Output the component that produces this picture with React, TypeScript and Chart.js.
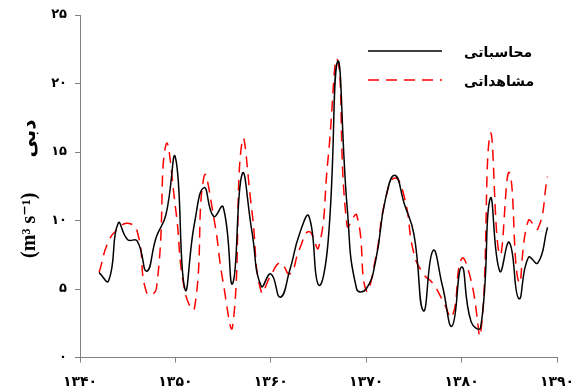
import React, { useEffect, useRef } from 'react';
import { Chart, registerables } from 'chart.js';

Chart.register(...registerables);

// ---- data ----
const years = [
  1342, 1343, 1344, 1345, 1346, 1347, 1348, 1349, 1350, 1351, 1352, 1353,
  1354, 1355, 1356, 1357, 1358, 1359, 1360, 1361, 1362, 1363, 1364, 1365,
  1366, 1367, 1368, 1369, 1370, 1371, 1372, 1373, 1374, 1375, 1376, 1377,
  1378, 1379, 1380, 1381, 1382, 1383, 1384, 1385, 1386, 1387, 1388, 1389,
];

const simulated = [
  6.2, 5.6, 9.8, 8.6, 8.5, 6.3, 8.8, 10.4, 14.6, 5.0, 9.8, 12.4,
  10.3, 11.0, 5.4, 13.4, 9.3, 5.2, 6.1, 4.4, 6.4, 9.0, 10.3, 5.3,
  8.4, 21.6, 11.0, 5.0, 5.0, 7.1, 11.5, 13.3, 11.2, 9.0, 3.4, 7.8,
  5.2, 2.3, 6.6, 2.6, 2.2, 11.6, 6.3, 8.4, 4.3, 7.3, 6.9, 9.5,
];

const observed = [
  6.2, 8.5, 9.4, 9.8, 9.2, 4.7, 5.0, 15.5, 11.0, 4.8, 3.6, 13.2,
  10.3, 5.5, 2.3, 15.8, 10.8, 4.8, 6.0, 6.9, 6.1, 7.9, 9.2, 8.0,
  14.5, 21.7, 9.6, 10.4, 4.9, 7.3, 11.5, 13.1, 11.7, 7.6, 6.1, 5.4,
  4.2, 3.0, 7.2, 5.6, 1.8, 16.3, 7.5, 13.5, 5.5, 10.0, 9.4, 13.2,
];

const xTicks = [1340, 1350, 1360, 1370, 1380, 1390];
const yTicks = [0, 5, 10, 15, 20, 25];
const seriesNames = ['محاسباتی', 'مشاهداتی'];
const yTitle = '(m³ s⁻¹)       دبی ';

const faDigits = '۰۱۲۳۴۵۶۷۸۹';
const toFa = (v: number | string) => String(v).replace(/\d/g, (d) => faDigits[+d]);

const insideLegend = {
  id: 'insideLegend',
  afterDraw(chart: any) {
    const ctx = chart.ctx;
    ctx.save();
    chart.data.datasets.forEach((ds: any, i: number) => {
      const y = 51 + i * 29;
      ctx.strokeStyle = ds.borderColor;
      ctx.lineWidth = ds.borderWidth;
      ctx.setLineDash(ds.borderDash || []);
      ctx.beginPath();
      ctx.moveTo(368, y);
      ctx.lineTo(442, y);
      ctx.stroke();
      ctx.setLineDash([]);
      ctx.fillStyle = '#000';
      ctx.font = 'bold 14px "DejaVu Sans"';
      ctx.textAlign = 'left';
      ctx.textBaseline = 'middle';
      ctx.fillText(ds.label, 464, y + 2);
    });
    ctx.restore();
  },
};

export default function App() {
  const ref = useRef<HTMLCanvasElement>(null);

  useEffect(() => {
    if (!ref.current) return;
    const axisColor = '#808080';
    const chart = new Chart(ref.current, {
      type: 'line',
      data: {
        datasets: [
          {
            label: seriesNames[0],
            data: years.map((x, i) => ({ x, y: simulated[i] })),
            borderColor: '#000000',
            borderWidth: 1.5,
            pointRadius: 0,
            tension: 0.5,
            fill: false,
          },
          {
            label: seriesNames[1],
            data: years.map((x, i) => ({ x, y: observed[i] })),
            borderColor: '#ff0000',
            borderWidth: 1.5,
            borderDash: [11, 7],
            pointRadius: 0,
            tension: 0.5,
            fill: false,
          },
        ],
      },
      options: {
        animation: false,
        responsive: false,
        layout: { padding: { top: 15, right: 14, left: 0, bottom: 0 } },
        plugins: { legend: { display: false }, tooltip: { enabled: false } },
        scales: {
          x: {
            type: 'linear',
            min: 1340,
            max: 1390,
            afterBuildTicks: (s: any) => {
              s.ticks = xTicks.map((v) => ({ value: v }));
            },
            afterFit: (s: any) => {
              s.height = 34.5;
              s.paddingLeft = 0;
              s.paddingRight = 0;
            },
            grid: {
              drawOnChartArea: false,
              drawTicks: true,
              tickLength: 5,
              color: axisColor,
            },
            border: { display: true, color: axisColor, width: 1 },
            ticks: {
              padding: 11,
              color: '#000',
              maxRotation: 0,
              autoSkip: false,
              font: { family: '"DejaVu Sans"', size: 14, weight: 'bold' },
              callback: (v: any) => toFa(v),
            },
          },
          y: {
            type: 'linear',
            min: 0,
            max: 25,
            afterBuildTicks: (s: any) => {
              s.ticks = yTicks.map((v) => ({ value: v }));
            },
            afterFit: (s: any) => {
              s.width = 80;
              s.paddingTop = 0;
              s.paddingBottom = 0;
            },
            grid: {
              drawOnChartArea: false,
              drawTicks: true,
              tickLength: 5,
              color: axisColor,
            },
            border: { display: true, color: axisColor, width: 1 },
            ticks: {
              padding: 8,
              color: '#000',
              font: { family: '"DejaVu Sans"', size: 13, weight: 'bold' },
              callback: (v: any) => toFa(v),
            },
            title: {
              display: true,
              text: yTitle,
              color: '#000',
              padding: { top: 18, bottom: 0 },
              font: { family: '"Liberation Serif", "DejaVu Sans"', size: 20, weight: 'bold' },
            },
          },
        },
      },
      plugins: [insideLegend],
    } as any);
    return () => chart.destroy();
  }, []);

  return (
    <div style={{ position: 'fixed', left: 0, top: 0, width: 571, height: 392, background: '#fff' }}>
      <canvas ref={ref} width={571} height={392} style={{ display: 'block' }} />
    </div>
  );
}
